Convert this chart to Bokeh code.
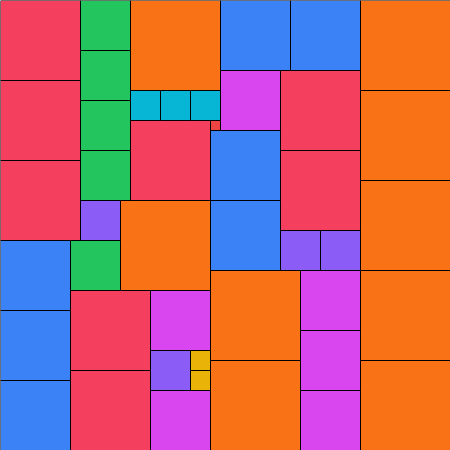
from bokeh.plotting import figure
from bokeh.models import ColumnDataSource, Range1d
from bokeh.embed import file_html
from bokeh.resources import INLINE

# Partridge puzzle: n squares of side n (n = 1..9) tiling a 45 x 45 square
square_size = [9, 9, 9, 9, 9, 9, 9, 9, 9,
               8, 8, 8, 8, 8, 8, 8, 8,
               7, 7, 7, 7, 7, 7, 7,
               6, 6, 6, 6, 6, 6,
               5, 5, 5, 5, 5,
               4, 4, 4, 4,
               3, 3, 3,
               2, 2,
               1]
square_x = [13, 12, 21, 21, 36, 36, 36, 36, 36,
            0, 0, 0, 13, 28, 28, 7, 7,
            0, 0, 0, 22, 29, 21, 21,
            15, 15, 22, 30, 30, 30,
            8, 8, 8, 8, 7,
            8, 15, 28, 32,
            13, 16, 19,
            19, 19,
            21]
square_y = [0, 20, 27, 36, 0, 9, 18, 27, 36,
            0, 8, 16, 12, 7, 15, 29, 37,
            24, 31, 38, 0, 0, 13, 20,
            29, 39, 7, 27, 33, 39,
            0, 5, 10, 15, 24,
            20, 35, 23, 23,
            9, 9, 9,
            35, 37,
            12]
size_colors = {9: "#f97316", 8: "#f43f5e", 7: "#3b82f6", 6: "#d946ef",
               5: "#22c55e", 4: "#8b5cf6", 3: "#06b6d4", 2: "#eab308",
               1: "#ef4444"}

side = 45
src = ColumnDataSource(dict(
    left=square_x,
    right=[x + s for x, s in zip(square_x, square_size)],
    top=square_y,
    bottom=[y + s for y, s in zip(square_y, square_size)],
    color=[size_colors[s] for s in square_size],
))

p = figure(width=450, height=450, output_backend="svg", toolbar_location=None,
           x_range=Range1d(0, side), y_range=Range1d(side, 0),
           min_border=0, outline_line_color=None)
p.axis.visible = False
p.grid.visible = False
p.background_fill_color = "white"
p.border_fill_color = "white"
p.quad(left="left", right="right", top="top", bottom="bottom", source=src,
       fill_color="color", line_color="black", line_width=1)

html = file_html(p, INLINE)
html = html.replace("<body>", '<body style="margin:0">', 1)
open("out.html", "w").write(html)
